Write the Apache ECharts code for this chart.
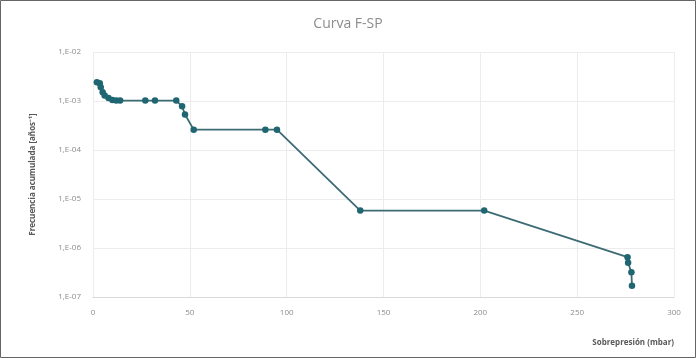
<!DOCTYPE html>
<html>
<head>
<meta charset="utf-8">
<script src="https://cdn.jsdelivr.net/npm/echarts@6/dist/echarts.min.js"></script>
<style>
html,body{margin:0;padding:0;background:#fff;}
#c{width:696px;height:358px;}
</style>
</head>
<body>
<div id="c"></div>
<script>
const titleText = "Curva F-SP";
const xAxisName = "Sobrepresión (mbar)";
const yAxisName = "Frecuencia acumulada [años⁻¹]";
const sobrepresion = [2, 3.5, 4, 5, 6, 8, 10, 12, 14, 27, 32, 43, 46, 47.5, 52, 89, 95, 138, 202, 276, 276.3, 278, 278.3];
const frecuencia = [2.4e-3, 2.3e-3, 1.9e-3, 1.5e-3, 1.3e-3, 1.15e-3, 1.05e-3, 1.02e-3, 1.02e-3, 1.02e-3, 1.02e-3, 1.02e-3, 7.8e-4, 5.3e-4, 2.6e-4, 2.6e-4, 2.6e-4, 5.8e-6, 5.8e-6, 6.5e-7, 5.0e-7, 3.2e-7, 1.7e-7];
const xTicks = [0, 50, 100, 150, 200, 250, 300];
const yTicks = ["1,E-02", "1,E-03", "1,E-04", "1,E-05", "1,E-06", "1,E-07"];

const pts = sobrepresion.map((x, i) => [x, frecuencia[i]]);
const chart = echarts.init(document.getElementById('c'), null, {renderer: 'canvas'});
const fam = '"Open Sans", "Liberation Sans", sans-serif';
chart.setOption({
  animation: false,
  backgroundColor: '#fff',
  title: {
    text: titleText, left: 'center', top: 12,
    textStyle: {color: '#8c8c8c', fontSize: 14, fontWeight: 'normal', fontFamily: fam}
  },
  graphic: [{
    type: 'rect', shape: {x: 0.5, y: 0.5, width: 695, height: 357},
    style: {fill: 'none', stroke: '#666', lineWidth: 1}, silent: true, z: 100
  }],
  grid: {left: 93, right: 22, top: 52, bottom: 61},
  xAxis: {
    type: 'value', min: xTicks[0], max: xTicks[xTicks.length - 1], interval: 50,
    name: xAxisName, nameLocation: 'end', nameGap: 0,
    nameTextStyle: {color: '#595959', fontSize: 8, fontWeight: 'bold', fontFamily: fam,
      align: 'right', verticalAlign: 'top', padding: [42, 0, 0, 0]},
    axisLine: {show: true, lineStyle: {color: '#d9d9d9'}},
    axisTick: {show: false},
    axisLabel: {color: '#8c8c8c', fontSize: 8, fontFamily: fam, margin: 12},
    splitLine: {show: true, lineStyle: {color: '#ececec'}}
  },
  yAxis: {
    type: 'log', logBase: 10, min: 1e-7, max: 1e-2,
    name: yAxisName, nameLocation: 'middle', nameRotate: 90, nameGap: 56,
    nameTextStyle: {color: '#595959', fontSize: 8, fontWeight: 'bold', fontFamily: fam},
    axisLine: {show: false},
    axisTick: {show: false},
    axisLabel: {
      color: '#8c8c8c', fontSize: 8, fontFamily: fam, margin: 12,
      formatter: function (v) {
        const e = Math.round(Math.log10(v));
        const idx = -2 - e;
        return yTicks[idx] !== undefined ? yTicks[idx] : '';
      }
    },
    splitLine: {show: true, lineStyle: {color: '#ececec'}}
  },
  series: [{
    type: 'line', data: pts,
    symbol: 'circle', symbolSize: 6.5,
    lineStyle: {color: '#3d6b74', width: 1.8},
    itemStyle: {color: '#1f6672'}
  }]
});
</script>
</body>
</html>
